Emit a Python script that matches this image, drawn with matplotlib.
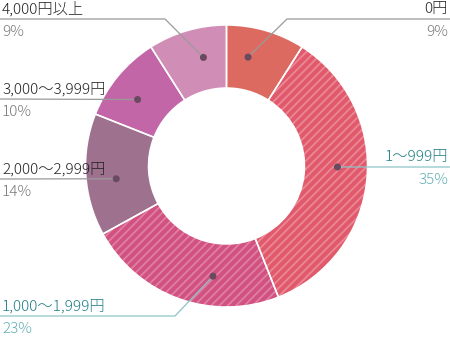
import numpy as np
import matplotlib
matplotlib.use('Agg')
import matplotlib.pyplot as plt
from matplotlib.patches import Circle

plt.rcParams['font.family'] = ['Noto Sans CJK JP', 'DejaVu Sans']
plt.rcParams['hatch.linewidth'] = 1.3

# Spending brackets, clockwise from 12 o'clock
labels = ['0円', '1〜999円', '1,000〜1,999円', '2,000〜2,999円',
          '3,000〜3,999円', '4,000円以上']
shares = [9, 35, 23, 14, 10, 9]
base_colors = ['#dd6a60', '#e05a6b', '#d1527f', '#9e718f', '#c266a8', '#d08db5']
stripe_colors = [None, '#eb8796', '#e07ea6', None, None, None]
highlight = [False, True, True, False, False, False]

# Label layout: anchor angle on ring (deg, screen), text x, line y, align, elbow x
label_layout = [
    (78.8, 448, 19, 'right', 287),
    (-0.5, 448, 167, 'right', None),
    (263.0, 2, 316, 'left', 175),
    (186.6, 2, 179, 'left', None),
    (143.2, 2, 99, 'left', None),
    (102.0, 2, 19, 'left', 165),
]

cx, cy = 226.5, 166.0
r_out, r_in = 141.0, 78.0
r_dot = 111.0

fig = plt.figure(figsize=(4.5, 3.39), dpi=100)
ax = fig.add_axes([0, 0, 1, 1])

# Filled ring (y axis is inverted, so counterclock in data = clockwise on screen)
wedges, _ = ax.pie(shares, startangle=-90, counterclock=True,
                   center=(cx, cy), radius=r_out, colors=base_colors,
                   wedgeprops=dict(width=r_out - r_in, linewidth=0))
for w, sc in zip(wedges, stripe_colors):
    if sc is not None:
        w.set_edgecolor(sc)
        w.set_hatch('////')
        w.set_linewidth(0)

# White separators between slices
ax.pie(shares, startangle=-90, counterclock=True, center=(cx, cy),
       radius=r_out,
       wedgeprops=dict(width=r_out - r_in, facecolor='none',
                       edgecolor='white', linewidth=1.1))

ax.set_xlim(0, 450)
ax.set_ylim(339, 0)
ax.set_aspect('equal')
ax.axis('off')

for lab, pct, hl, (ang, tx, ly, ha, elbow) in zip(labels, shares, highlight,
                                                   label_layout):
    a = np.deg2rad(ang)
    dx = cx + r_dot * np.cos(a)
    dy = cy - r_dot * np.sin(a)
    line_c = '#8ec4c7' if hl else '#9a9a9a'
    name_c = '#1f7f85' if hl else '#222222'
    pct_c = '#62aeb3' if hl else '#7a7a7a'
    edge_x = 450 if ha == 'right' else 0
    if elbow is not None:
        ax.plot([dx, elbow, edge_x], [dy, ly, ly], color=line_c, lw=0.9,
                solid_capstyle='butt', zorder=3)
    else:
        ax.plot([dx, edge_x], [dy, ly], color=line_c, lw=0.9,
                solid_capstyle='butt', zorder=3)
    ax.add_patch(Circle((dx, dy), 2.8, color='#6a4a60', zorder=4))
    ax.text(tx, ly - 2.5, lab, ha=ha, va='bottom', fontsize=11,
            fontweight='light', color=name_c)
    ax.text(tx, ly + 6, f'{pct}%', ha=ha, va='top', fontsize=11,
            fontweight='light', color=pct_c)

fig.savefig('out.png', dpi=100)
